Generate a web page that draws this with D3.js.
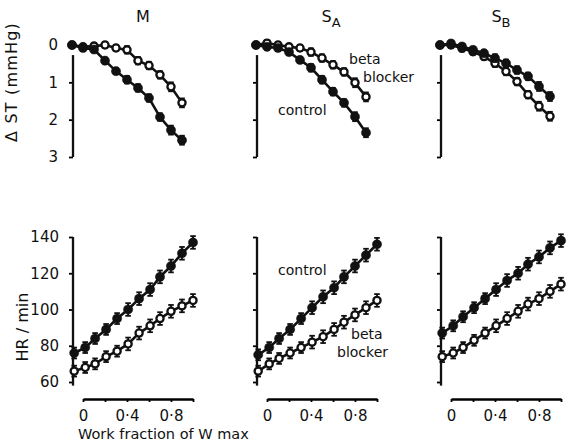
<!DOCTYPE html>
<html>
<head>
<meta charset="utf-8">
<script src="https://cdn.jsdelivr.net/npm/d3@7"></script>
<style>
  body { margin: 0; background: #fff; }
  text { font-family: "DejaVu Sans", sans-serif; fill: #111; }
</style>
</head>
<body>
<script>
// panel titles
const titleMain = ["M", "S", "S"];
const titleSub = ["", "A", "B"];

// x positions (work fraction of Wmax)
const stX = [-0.1, 0, 0.1, 0.2, 0.3, 0.4, 0.5, 0.6, 0.7, 0.8, 0.9];
const hrX = [-0.08, 0.02, 0.11, 0.21, 0.31, 0.41, 0.51, 0.61, 0.7, 0.8, 0.9, 1.0];

// delta ST (mmHg), control and beta blocker
const stControlM = [0, 0.08, 0.12, 0.42, 0.7, 0.93, 1.15, 1.42, 1.93, 2.28, 2.55];
const stBetaM = [0, 0.05, 0.03, 0.0, 0.08, 0.13, 0.42, 0.55, 0.8, 1.12, 1.55];
const stControlSA = [0, 0.05, 0.08, 0.19, 0.4, 0.61, 0.93, 1.25, 1.55, 1.92, 2.35];
const stBetaSA = [0, -0.05, 0, 0.05, 0.08, 0.19, 0.35, 0.53, 0.72, 1.01, 1.39];
const stControlSB = [0, -0.04, 0.04, 0.13, 0.22, 0.35, 0.49, 0.67, 0.84, 1.11, 1.38];
const stBetaSB = [0, 0, 0.09, 0.18, 0.31, 0.49, 0.71, 0.98, 1.33, 1.64, 1.91];
const stErr = [0.05, 0.08, 0.08, 0.08, 0.08, 0.1, 0.1, 0.1, 0.1, 0.12, 0.12];

// heart rate (beats/min)
const hrControlM = [76, 79, 84, 89, 95, 100, 106, 111, 118, 124, 131, 137];
const hrBetaM = [66, 68, 70, 74, 77, 81, 87, 91, 95, 99, 102, 105];
const hrControlSA = [75, 79, 84, 89, 95, 101, 107, 112, 118, 124, 130, 136];
const hrBetaSA = [66, 70, 73, 76, 79, 82, 85, 89, 93, 97, 101, 105];
const hrControlSB = [87, 91, 96, 101, 106, 111, 116, 120, 125, 129, 134, 138];
const hrBetaSB = [74, 76, 79, 83, 87, 91, 95, 99, 103, 106, 110, 114];
const hrErr = [3, 3, 3, 3, 3, 3.5, 3.5, 3.5, 3.5, 3.5, 3.5, 3.5];

// ticks
const stTicks = [0, 1, 2, 3];
const hrTicks = [60, 80, 100, 120, 140];
const xTicks = [0, 0.2, 0.4, 0.6, 0.8, 1.0];
const xTickLabels = ["0", "", "0·4", "", "0·8", ""];

const stControl = [stControlM, stControlSA, stControlSB];
const stBeta = [stBetaM, stBetaSA, stBetaSB];
const hrControl = [hrControlM, hrControlSA, hrControlSB];
const hrBeta = [hrBetaM, hrBetaSA, hrBetaSB];

const axisX = [73, 257, 441];
const titleX = [143, 331, 501];

const svg = d3.select("body").append("svg")
  .attr("width", 569)
  .attr("height", 445);

svg.append("rect").attr("width", 569).attr("height", 445).attr("fill", "#fff");

const yST = d3.scaleLinear().domain([0, 3]).range([45, 157]);
const yHR = d3.scaleLinear().domain([60, 140]).range([382, 237]);

// draws one series: line, error bars, markers
const drawSeries = (g, xs, ys, errs, x, y, filled) => {
  const pts = xs.map((d, i) => ({ x: d, y: ys[i], e: errs[i] }));
  const line = d3.line().x(d => x(d.x)).y(d => y(d.y));
  g.append("path")
    .attr("d", line(pts))
    .attr("stroke", "#111")
    .attr("stroke-width", 2.6)
    .attr("fill", "none");
  const eb = g.append("g").attr("stroke", "#111").attr("stroke-width", 1.8);
  pts.forEach(d => {
    const cx = x(d.x);
    eb.append("line").attr("x1", cx).attr("x2", cx)
      .attr("y1", y(d.y - d.e)).attr("y2", y(d.y + d.e));
    [d.y - d.e, d.y + d.e].forEach(v => {
      eb.append("line").attr("x1", cx - 2.8).attr("x2", cx + 2.8)
        .attr("y1", y(v)).attr("y2", y(v));
    });
  });
  g.selectAll(null).data(pts).enter().append("circle")
    .attr("cx", d => x(d.x))
    .attr("cy", d => y(d.y))
    .attr("r", filled ? 4.6 : 3.6)
    .attr("fill", filled ? "#111" : "#fff")
    .attr("stroke", "#111")
    .attr("stroke-width", filled ? 0.5 : 2.3);
};

axisX.forEach((ax, p) => {
  const x = d3.scaleLinear().domain([0, 1]).range([ax + 10, ax + 120]);

  // title
  const t = svg.append("text")
    .attr("x", titleX[p]).attr("y", 22)
    .attr("text-anchor", "middle")
    .attr("font-size", 16)
    .text(titleMain[p]);
  if (titleSub[p]) {
    t.append("tspan").attr("dy", 5).attr("font-size", 13).text(titleSub[p]);
  }

  // top: delta ST
  const gTop = svg.append("g");
  gTop.append("g")
    .attr("transform", `translate(${ax},0)`)
    .call(d3.axisLeft(yST).tickValues(stTicks).tickSize(4).tickPadding(11)
      .tickFormat(d => p === 0 ? d : ""))
    .call(g => g.select(".domain").remove())
    .call(g => g.selectAll(".tick line").filter(d => d === 0).remove())
    .call(g => g.selectAll(".tick line").attr("stroke-width", 1.8))
    .call(g => g.selectAll(".tick text").attr("font-size", 15).attr("font-family", "DejaVu Sans"));
  gTop.append("line")
    .attr("x1", ax).attr("x2", ax)
    .attr("y1", yST(0.27)).attr("y2", yST(3))
    .attr("stroke", "#111").attr("stroke-width", 2.3);
  drawSeries(gTop, stX, stBeta[p], stErr, x, yST, false);
  drawSeries(gTop, stX, stControl[p], stErr, x, yST, true);

  // bottom: heart rate
  const gBot = svg.append("g");
  gBot.append("g")
    .attr("transform", `translate(${ax},0)`)
    .call(d3.axisLeft(yHR).tickValues(hrTicks).tickSize(4).tickPadding(10)
      .tickFormat(d => p === 0 ? d : ""))
    .call(g => g.select(".domain").remove())
    .call(g => g.selectAll(".tick line").attr("stroke-width", 1.8))
    .call(g => g.selectAll(".tick text").attr("font-size", 15).attr("font-family", "DejaVu Sans"));
  gBot.append("line")
    .attr("x1", ax).attr("x2", ax)
    .attr("y1", yHR(140)).attr("y2", yHR(58))
    .attr("stroke", "#111").attr("stroke-width", 2.3);
  drawSeries(gBot, hrX, hrBeta[p], hrErr, x, yHR, false);
  drawSeries(gBot, hrX, hrControl[p], hrErr, x, yHR, true);

  // x axis
  svg.append("g")
    .attr("transform", "translate(0,399)")
    .call(d3.axisBottom(x).tickValues(xTicks).tickSize(3).tickSizeOuter(0).tickPadding(8)
      .tickFormat((d, i) => xTickLabels[i]))
    .call(g => g.select(".domain").attr("stroke-width", 2.3))
    .call(g => g.selectAll(".tick line").attr("stroke-width", 1.8))
    .call(g => g.selectAll(".tick text").attr("font-size", 15).attr("font-family", "DejaVu Sans"));
});

// axis titles
svg.append("text")
  .attr("transform", "translate(17,82) rotate(-90)")
  .attr("text-anchor", "middle")
  .attr("font-size", 16)
  .attr("letter-spacing", 1.2)
  .text("Δ ST (mmHg)");
svg.append("text")
  .attr("transform", "translate(28,327) rotate(-90)")
  .attr("text-anchor", "middle")
  .attr("font-size", 16)
  .text("HR / min");
svg.append("text")
  .attr("x", 78).attr("y", 439)
  .attr("font-size", 14.5)
  .text("Work fraction of W max");

// annotations
const notes = [
  ["control", 278, 115], ["beta", 349, 64], ["blocker", 363, 82],
  ["control", 278, 275], ["beta", 351, 339], ["blocker", 337, 357]
];
notes.forEach(([s, nx, ny]) => {
  svg.append("text").attr("x", nx).attr("y", ny).attr("font-size", 14).text(s);
});
</script>
</body>
</html>
